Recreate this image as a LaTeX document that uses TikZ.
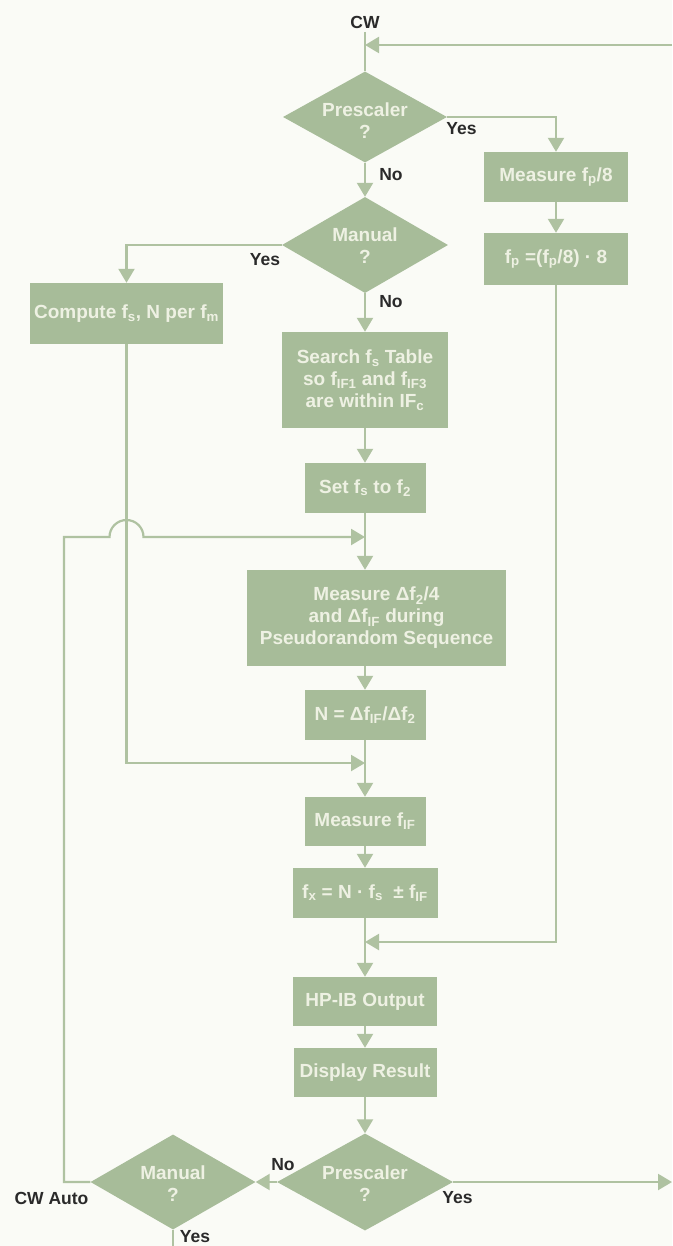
\documentclass[tikz,border=0pt]{standalone}
\usepackage{fontspec}
\setmainfont{Liberation Sans}
\usetikzlibrary{shapes.geometric,arrows.meta}
\definecolor{bgc}{HTML}{FAFBF6}
\definecolor{boxc}{HTML}{A7BC99}
\definecolor{linec}{HTML}{AFC2A1}
\definecolor{txtc}{HTML}{EEF1E3}
\definecolor{labc}{HTML}{2A2A2A}
\newcommand{\sbs}[1]{\textsubscript{#1}}
\begin{document}
\begin{tikzpicture}[x=1pt,y=-1pt,
  boxn/.style={rectangle, fill=boxc, draw=none, inner sep=0pt, text=txtc, align=center, font=\bfseries\fontsize{19}{22}\selectfont},
  dian/.style={diamond, fill=boxc, draw=none, inner sep=0pt},
  dtext/.style={text=txtc, align=center, inner sep=0pt, font=\bfseries\fontsize{19}{22}\selectfont},
  lab/.style={text=labc, inner sep=0pt, font=\bfseries\fontsize{17.5}{20}\selectfont},
  conn/.style={draw=linec, line width=2.2pt},
  arr/.style={conn, -{Triangle[width=16pt,length=14pt]}}
]
\fill[bgc] (0,0) rectangle (672,1246);
\useasboundingbox (0,0) rectangle (672,1246);

% boxes
\node[boxn, minimum width=144pt, minimum height=50pt] (mfp) at (556,177) {Measure f\sbs{p}/8};
\node[boxn, minimum width=144pt, minimum height=52pt] (fpb) at (556,259) {f\sbs{p} =(f\sbs{p}/8) · 8};
\node[boxn, minimum width=193pt, minimum height=61pt] (comp) at (126.5,313.5) {Compute f\sbs{s}, N per f\sbs{m}};
\node[boxn, minimum width=166pt, minimum height=96pt] (srch) at (365,380) {Search f\sbs{s} Table\\so f\sbs{IF1} and f\sbs{IF3}\\are within IF\sbs{c}};
\node[boxn, minimum width=121pt, minimum height=50pt] (setb) at (365,488) {Set f\sbs{s} to f\sbs{2}};
\node[boxn, minimum width=259pt, minimum height=96pt] (meas) at (376.5,618) {Measure Δf\sbs{2}/4\\and Δf\sbs{IF} during\\Pseudorandom Sequence};
\node[boxn, minimum width=121pt, minimum height=50pt] (nb) at (365,715) {N = Δf\sbs{IF}/Δf\sbs{2}};
\node[boxn, minimum width=121pt, minimum height=49pt] (mif) at (365,821.5) {Measure f\sbs{IF}};
\node[boxn, minimum width=145pt, minimum height=50pt] (fxb) at (365,893) {f\sbs{x} = N · f\sbs{s} \ ± f\sbs{IF}};
\node[boxn, minimum width=144pt, minimum height=49pt] (hpib) at (365,1001.5) {HP-IB Output};
\node[boxn, minimum width=143pt, minimum height=49pt] (disp) at (365,1072.5) {Display Result};

% diamonds
\node[dian, minimum width=164pt, minimum height=91pt] (pre1) at (365,117) {};
\node[dtext] (pre1t) at ([yshift=-4pt]pre1.center) {Prescaler\\?};
\node[dian, minimum width=166pt, minimum height=96pt] (man1) at (365,245) {};
\node[dtext] (man1t) at ([yshift=-1pt]man1.center) {Manual\\?};
\node[dian, minimum width=176pt, minimum height=97pt] (pre2) at (365,1182) {};
\node[dtext] (pre2t) at ([yshift=-2pt]pre2.center) {Prescaler\\?};
\node[dian, minimum width=165pt, minimum height=95pt] (man2) at (173,1182) {};
\node[dtext] (man2t) at ([yshift=-2pt]man2.center) {Manual\\?};

% labels
\node[lab] (cwl) at (365,22) {CW};
\node[lab] (y1) at (461.5,128.5) {Yes};
\node[lab] (n1) at (391,175) {No};
\node[lab] (y2) at (265,260) {Yes};
\node[lab] (n2) at (391,302) {No};
\node[lab] (n3) at (283,1165) {No};
\node[lab] (y3) at (457.5,1198) {Yes};
\node[lab] (cwa) at (51.5,1198) {CW Auto};
\node[lab] (y4) at (195,1237) {Yes};

% coordinates
\coordinate (ctop) at (365,32);
\coordinate (jtop) at (365,45);
\coordinate (redge1) at (672,45);
\coordinate (j1) at (365,537);
\coordinate (j2) at (365,763);
\coordinate (j3) at (365,942);
\coordinate (lx) at (64,537);
\coordinate (redge2) at (672,1182);
\coordinate (bot) at (173,1246);
\coordinate (hump) at (comp.south |- j1);

% connectors
\draw[conn] (ctop) -- (pre1.north);
\draw[arr] (redge1) -- (jtop);
\draw[arr] (pre1.south) -- (man1.north);
\draw[arr] (man1.south) -- (srch.north);
\draw[arr] (srch.south) -- (setb.north);
\draw[arr] (setb.south) -- (setb.south |- meas.north);
\draw[arr] (setb.south |- meas.south) -- (nb.north);
\draw[arr] (nb.south) -- (mif.north);
\draw[arr] (mif.south) -- (fxb.north);
\draw[arr] (fxb.south) -- (hpib.north);
\draw[arr] (hpib.south) -- (disp.north);
\draw[arr] (disp.south) -- (pre2.north);
\draw[arr] (pre1.east) -- (pre1.east -| mfp.north) -- (mfp.north);
\draw[arr] (mfp.south) -- (fpb.north);
\draw[arr] (fpb.south) -- (fpb.south |- j3) -- (j3);
\draw[arr] (man1.west) -- (man1.west -| comp.north) -- (comp.north);
\draw[arr] (comp.south) -- (comp.south |- j2) -- (j2);
\draw[arr] (man2.west) -- (man2.west -| lx) -- (lx) -- ([xshift=-17pt]hump) arc[start angle=180,end angle=0,radius=17pt] -- (j1);
\draw[arr] (pre2.west) -- (man2.east);
\draw[arr] (pre2.east) -- (redge2);
\draw[conn] (man2.south) -- (bot);
\end{tikzpicture}
\end{document}
